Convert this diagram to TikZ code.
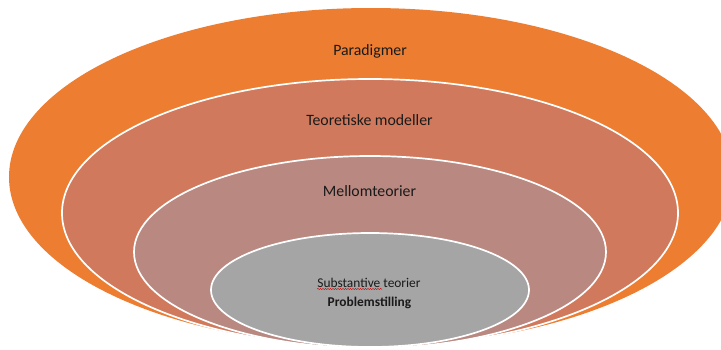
\documentclass[tikz,border=0pt]{standalone}
\usepackage{fontspec}
\setmainfont{Carlito}
\usetikzlibrary{decorations.pathmorphing}
\definecolor{ringA}{HTML}{ED7D31}
\definecolor{ringB}{HTML}{D1795C}
\definecolor{ringC}{HTML}{B98880}
\definecolor{ringD}{HTML}{A5A5A5}
\definecolor{inktext}{HTML}{1A1A1A}
\begin{document}
\begin{tikzpicture}[x=1pt,y=-1pt,
  ring/.style={draw=white,line width=1.7pt},
  biglbl/.style={font=\fontsize{15.8}{19}\selectfont, text=inktext, inner sep=0pt, anchor=base},
  smalllbl/.style={font=\fontsize{13.4}{16}\selectfont, text=inktext, inner sep=0pt, anchor=base}]
\useasboundingbox (0,0) rectangle (721,349);
\begin{scope}
  \clip (0,0) rectangle (721,349);
  % nested rings, outermost first
  \fill[ringA] (371,177) ellipse [x radius=362, y radius=169];
  \filldraw[ring, fill=ringB] (370,213) ellipse [x radius=308, y radius=134];
  \filldraw[ring, fill=ringC] (370,252) ellipse [x radius=236, y radius=96];
  \filldraw[ring, fill=ringD] (370,290) ellipse [x radius=159, y radius=57];
\end{scope}
% labels
\node[biglbl] (paradigmer) at (370,55) {Paradigmer};
\node[biglbl] (teoretiske) at (369.5,125) {Teoretiske modeller};
\node[biglbl] (mellom) at (369.5,196) {Mellomteorier};
\node[smalllbl] (substantive) at (369,287) {Substantive teorier};
\node[smalllbl, font=\fontsize{13.4}{16}\selectfont\bfseries] (problem) at (369.5,306) {Problemstilling};
% spell-check squiggle under the first word
\draw[red!80!black, line width=0.5pt,
      decorate, decoration={snake, amplitude=0.6pt, segment length=2.5pt}]
  ([xshift=0pt,yshift=-2pt]substantive.base west) -- ++(65,0);
\end{tikzpicture}
\end{document}
